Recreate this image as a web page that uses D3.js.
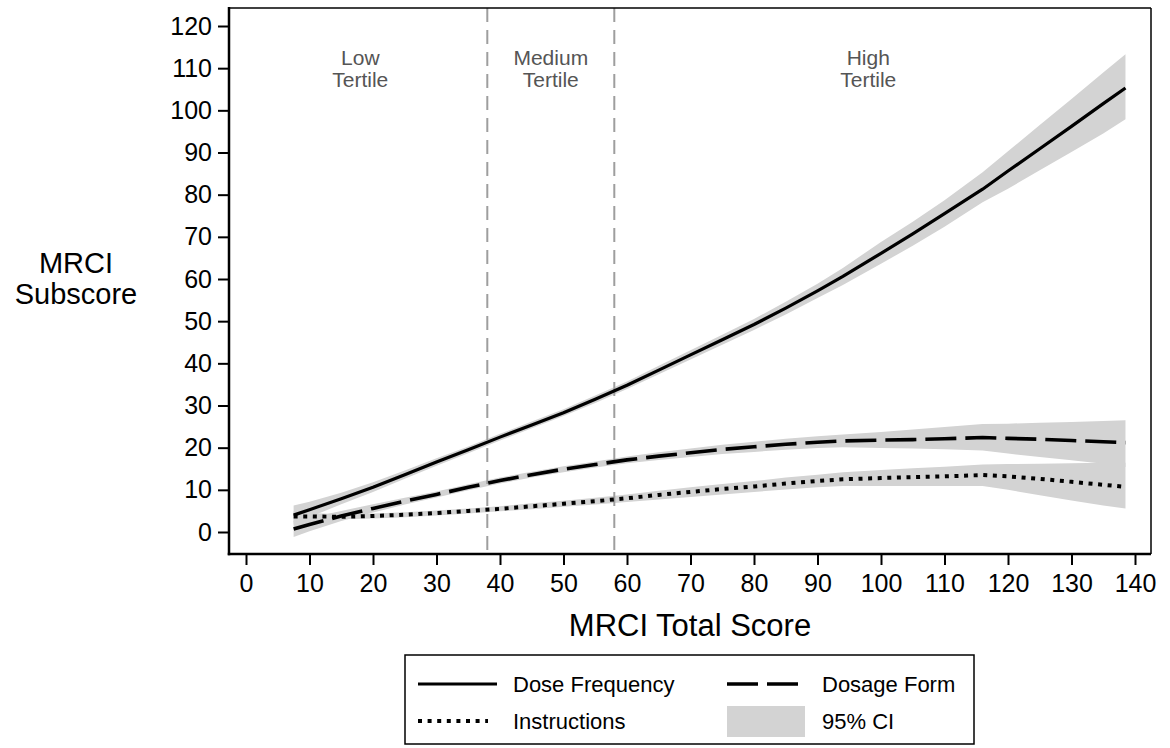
<!DOCTYPE html>
<html>
<head>
<meta charset="utf-8">
<script src="https://cdn.jsdelivr.net/npm/d3@7"></script>
<style>
  html, body { margin: 0; padding: 0; background: #fff; }
  svg { display: block; font-family: "Liberation Sans", Arial, Helvetica, sans-serif; }
</style>
</head>
<body>
<svg id="chart" width="1170" height="748"></svg>
<script>
// ---------------- DATA ----------------
const totalScore = [7.5, 10, 15, 20, 25, 30, 35, 40, 45, 50, 55, 60, 65, 70, 75, 80, 85, 90, 94, 100, 105, 110, 116, 120, 125, 130, 135, 138.5];

const doseFrequency   = [4.0, 5.3, 7.9, 10.6, 13.6, 16.6, 19.5, 22.5, 25.4, 28.3, 31.5, 34.8, 38.4, 42.0, 45.6, 49.2, 53.1, 57.2, 60.6, 66.1, 70.7, 75.5, 81.3, 85.6, 90.9, 96.2, 101.6, 105.3];
const doseFrequencyLo = [1.8, 3.5, 6.6, 9.5, 12.6, 15.7, 18.7, 21.7, 24.6, 27.5, 30.6, 33.9, 37.4, 40.9, 44.4, 47.9, 51.6, 55.5, 58.6, 63.6, 67.9, 72.4, 78.2, 81.4, 85.8, 90.1, 94.5, 97.9];
const doseFrequencyHi = [6.3, 7.2, 9.3, 11.8, 14.6, 17.5, 20.3, 23.3, 26.2, 29.1, 32.4, 35.7, 39.4, 43.1, 46.8, 50.5, 54.6, 58.9, 62.6, 68.8, 73.6, 78.7, 85.3, 90.3, 96.5, 102.7, 109.0, 113.3];

const dosageForm   = [0.7, 1.8, 3.8, 5.6, 7.3, 8.9, 10.6, 12.2, 13.6, 14.9, 16.0, 17.1, 18.0, 18.8, 19.6, 20.2, 20.8, 21.3, 21.6, 21.8, 21.9, 22.1, 22.4, 22.2, 22.0, 21.7, 21.4, 21.2];
const dosageFormLo = [-1.2, 0.2, 2.6, 4.6, 6.5, 8.2, 9.9, 11.5, 12.9, 14.2, 15.3, 16.3, 17.1, 17.8, 18.5, 19.0, 19.5, 19.9, 20.1, 19.9, 19.8, 19.6, 19.3, 18.6, 17.8, 17.0, 16.2, 15.4];
const dosageFormHi = [2.6, 3.4, 5.0, 6.6, 8.1, 9.6, 11.3, 12.9, 14.3, 15.6, 16.7, 17.9, 18.9, 19.8, 20.7, 21.4, 22.1, 22.7, 23.1, 23.7, 24.3, 24.9, 25.6, 25.7, 25.9, 26.1, 26.3, 26.5];

const instructions   = [3.7, 3.7, 3.6, 3.8, 4.1, 4.5, 5.0, 5.5, 6.1, 6.7, 7.3, 8.0, 8.8, 9.5, 10.2, 10.8, 11.5, 12.1, 12.5, 12.8, 13.0, 13.2, 13.5, 13.2, 12.6, 11.9, 11.2, 10.7];
const instructionsLo = [2.3, 2.8, 3.0, 3.2, 3.5, 3.9, 4.4, 4.9, 5.4, 6.0, 6.5, 7.1, 7.7, 8.3, 8.9, 9.5, 10.1, 10.6, 10.9, 10.9, 10.9, 10.9, 10.9, 10.0, 8.7, 7.5, 6.3, 5.6];
const instructionsHi = [4.9, 4.5, 4.2, 4.4, 4.7, 5.1, 5.6, 6.1, 6.8, 7.4, 8.1, 8.9, 9.8, 10.6, 11.4, 12.1, 12.9, 13.6, 14.2, 14.7, 15.1, 15.5, 16.0, 16.1, 16.2, 16.3, 16.4, 16.4];

const xTicks = [0, 10, 20, 30, 40, 50, 60, 70, 80, 90, 100, 110, 120, 130, 140];
const yTicks = [0, 10, 20, 30, 40, 50, 60, 70, 80, 90, 100, 110, 120];
const tertileCuts = [38, 58];
const tertileLabels = [
  { x: 18, lines: ["Low", "Tertile"] },
  { x: 48, lines: ["Medium", "Tertile"] },
  { x: 98, lines: ["High", "Tertile"] }
];
const seriesNames = ["Dose Frequency", "Dosage Form", "Instructions", "95% CI"];
const xTitle = "MRCI Total Score";
const yTitle = ["MRCI", "Subscore"];

// ---------------- LAYOUT ----------------
const svg = d3.select("#chart");
const frame = { left: 229, right: 1151, top: 8, bottom: 554 };

const x = d3.scaleLinear().domain([-2.677, 142.52]).range([frame.left, frame.right]);
const y = d3.scaleLinear().domain([-5.217, 124.27]).range([frame.bottom, frame.top]);

const bandColor = "#d3d3d3";

const mk = (vals, lo, hi) => totalScore.map((t, i) => ({ x: t, y: vals[i], lo: lo[i], hi: hi[i] }));
const series = [
  { name: seriesNames[0], data: mk(doseFrequency, doseFrequencyLo, doseFrequencyHi), dash: null, width: 3.2, legendLen: 79 },
  { name: seriesNames[1], data: mk(dosageForm, dosageFormLo, dosageFormHi), dash: "31,9", width: 3.6, legendLen: 73 },
  { name: seriesNames[2], data: mk(instructions, instructionsLo, instructionsHi), dash: "4,5.6", width: 4, legendLen: 70 }
];

// Bands
const area = d3.area().x(d => x(d.x)).y0(d => y(d.lo)).y1(d => y(d.hi));
svg.append("g").selectAll("path").data(series).join("path")
  .attr("d", d => area(d.data)).attr("fill", bandColor).attr("stroke", "none");

// Tertile cut lines
svg.append("g").selectAll("line").data(tertileCuts).join("line")
  .attr("x1", d => x(d)).attr("x2", d => x(d))
  .attr("y1", frame.top).attr("y2", frame.bottom)
  .attr("stroke", "#9e9e9e").attr("stroke-width", 2).attr("stroke-dasharray", "14,8");

// Lines
const line = d3.line().x(d => x(d.x)).y(d => y(d.y));
svg.append("g").selectAll("path").data(series).join("path")
  .attr("d", d => line(d.data)).attr("fill", "none").attr("stroke", "#000")
  .attr("stroke-width", d => d.width)
  .attr("stroke-dasharray", d => d.dash)
  .attr("stroke-linejoin", "round");

// Tertile labels
const tl = svg.append("g").attr("font-size", 21).attr("fill", "#555").attr("text-anchor", "middle");
tertileLabels.forEach(t => {
  t.lines.forEach((s, i) => {
    tl.append("text").attr("x", x(t.x)).attr("y", 65 + i * 22).text(s);
  });
});

// Frame
svg.append("line").attr("x1", frame.left).attr("x2", frame.right).attr("y1", frame.top).attr("y2", frame.top)
  .attr("stroke", "#000").attr("stroke-width", 1.5);
svg.append("line").attr("x1", frame.right).attr("x2", frame.right).attr("y1", frame.top).attr("y2", frame.bottom)
  .attr("stroke", "#000").attr("stroke-width", 1.5);

// Axes
const xAxis = svg.append("g").attr("transform", `translate(0,${frame.bottom})`)
  .call(d3.axisBottom(x).tickValues(xTicks).tickSize(11).tickSizeOuter(0).tickPadding(9));
const yAxis = svg.append("g").attr("transform", `translate(${frame.left},0)`)
  .call(d3.axisLeft(y).tickValues(yTicks).tickSize(11).tickSizeOuter(0).tickPadding(6));
[xAxis, yAxis].forEach(a => {
  a.select(".domain").remove();
  a.selectAll(".tick line").attr("stroke", "#000").attr("stroke-width", 2);
  a.selectAll(".tick text").attr("fill", "#000").attr("font-size", 25)
    .attr("font-family", "'Liberation Sans', Arial, sans-serif");
});
xAxis.selectAll(".tick text").attr("dy", "0.71em");
svg.append("line").attr("x1", frame.left).attr("x2", frame.left).attr("y1", frame.top - 1).attr("y2", frame.bottom + 1.25)
  .attr("stroke", "#000").attr("stroke-width", 2.5);
svg.append("line").attr("x1", frame.left - 1.25).attr("x2", frame.right).attr("y1", frame.bottom).attr("y2", frame.bottom)
  .attr("stroke", "#000").attr("stroke-width", 2.5);

// Axis titles
svg.append("text").attr("x", (frame.left + frame.right) / 2).attr("y", 636)
  .attr("text-anchor", "middle").attr("font-size", 31).attr("fill", "#000").text(xTitle);
yTitle.forEach((s, i) => {
  svg.append("text").attr("x", 76).attr("y", 273 + i * 31)
    .attr("text-anchor", "middle").attr("font-size", 29).attr("fill", "#000").text(s);
});

// Legend
const lg = svg.append("g");
lg.append("rect").attr("x", 405).attr("y", 655).attr("width", 569).attr("height", 89)
  .attr("fill", "#fff").attr("stroke", "#000").attr("stroke-width", 1.5);
const legendItems = [
  { label: seriesNames[0], kind: "line", s: series[0], sx: 418, tx: 513, cy: 684 },
  { label: seriesNames[1], kind: "line", s: series[1], sx: 727, tx: 822, cy: 684 },
  { label: seriesNames[2], kind: "line", s: series[2], sx: 418, tx: 513, cy: 721 },
  { label: seriesNames[3], kind: "band", sx: 727, tx: 822, cy: 721 }
];
legendItems.forEach(it => {
  if (it.kind === "line") {
    lg.append("line").attr("x1", it.sx).attr("x2", it.sx + it.s.legendLen).attr("y1", it.cy).attr("y2", it.cy)
      .attr("stroke", "#000").attr("stroke-width", it.s.width)
      .attr("stroke-dasharray", it.s.dash);
  } else {
    lg.append("rect").attr("x", it.sx).attr("y", it.cy - 15).attr("width", 78).attr("height", 31)
      .attr("fill", bandColor);
  }
  lg.append("text").attr("x", it.tx).attr("y", it.cy + 8).attr("font-size", 22).attr("fill", "#000").text(it.label);
});
</script>
</body>
</html>
